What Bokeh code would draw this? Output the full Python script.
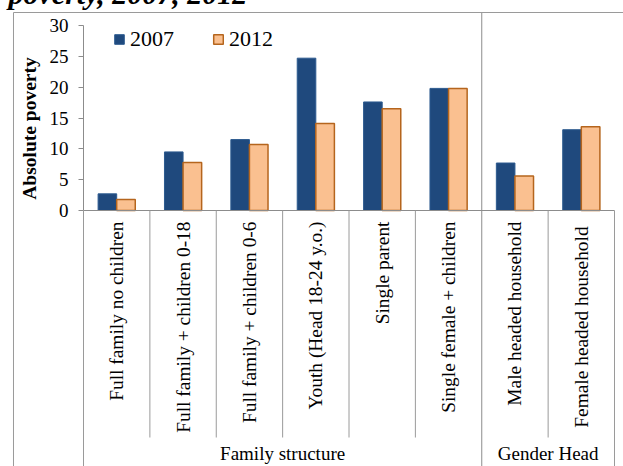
import numpy as np
from bokeh.plotting import figure
from bokeh.models import FactorRange, ColumnDataSource, Legend, LegendItem, FixedTicker
from bokeh.transform import dodge
from bokeh.core.properties import value
from bokeh.embed import file_html
from bokeh.resources import INLINE

# ---------------- data ----------------
title_text = "poverty, 2007, 2012"
groups = ["Family structure"] * 6 + ["Gender Head"] * 2
categories = [
    "Full family no children",
    "Full family + children 0-18",
    "Full family + children 0-6",
    "Youth (Head 18-24 y.o.)",
    "Single parent",
    "Single female + children",
    "Male headed household",
    "Female  headed household",
]
v2007 = [2.7, 9.5, 11.5, 24.7, 17.6, 19.8, 7.7, 13.1]
v2012 = [1.8, 7.8, 10.7, 14.1, 16.5, 19.8, 5.6, 13.6]
series_names = ["2007", "2012"]
y_ticks = [0, 5, 10, 15, 20, 25, 30]
y_label = "Absolute poverty"

# ---------------- layout constants (pixels) ----------------
W, H = 623, 466
FL, FR, FT, FB = 83, 614, 12, 466      # plot frame
Y0_PX, YTOP_PX = 210, 25               # pixel rows of y=0 and y=30
FONT = "Liberation Serif"
LINE = "#9a9a9a"
AXIS = "#8c8c8c"

ppu = (Y0_PX - YTOP_PX) / (max(y_ticks) - min(y_ticks))
y_start = -(FB - Y0_PX) / ppu
y_end = (Y0_PX - FT) / ppu
n = len(categories)
cw = (FR - FL) / n


def px_to_x(px):
    return (px - FL) / cw


def px_to_y(py):
    return (Y0_PX - py) / ppu


factors = list(zip(groups, categories))
x_range = FactorRange(*factors, range_padding=0, factor_padding=0,
                      group_padding=0, subgroup_padding=0)

p = figure(width=W, height=H, x_range=x_range, y_range=(y_start, y_end),
           output_backend="svg", toolbar_location=None, x_axis_location=None,
           min_border_left=FL, min_border_right=W - FR, min_border_top=FT,
           min_border_bottom=0,
           outline_line_color=None, background_fill_color="white",
           border_fill_color="white")
p.xgrid.grid_line_color = None
p.ygrid.grid_line_color = None

# y axis
ya = p.yaxis[0]
ya.ticker = FixedTicker(ticks=y_ticks)
ya.bounds = (min(y_ticks), max(y_ticks))
ya.axis_line_color = AXIS
ya.major_tick_line_color = AXIS
ya.major_tick_out = 5
ya.major_tick_in = 0
ya.minor_tick_line_color = None
ya.major_label_text_font = FONT
ya.major_label_text_font_size = "19px"
ya.major_label_text_color = "black"
ya.major_label_standoff = 10

# y axis title
p.text(x=[px_to_x(29)], y=[px_to_y(128)], text=[y_label],
       angle=np.pi / 2, text_align="center", text_baseline="middle",
       text_font=value(FONT), text_font_size="19.5px", text_font_style="bold",
       text_color="black", level="overlay")

src = ColumnDataSource(dict(x=factors, cat=categories, v2007=v2007, v2012=v2012))

r1 = p.vbar(x=dodge("x", -0.14, range=p.x_range), top="v2007", bottom=0, width=0.28,
            source=src, fill_color="#1F497D", line_color="#2C5A8F", line_width=1)
r2 = p.vbar(x=dodge("x", 0.14, range=p.x_range), top="v2012", bottom=0, width=0.28,
            source=src, fill_color="#FAC090", line_color="#B5651D", line_width=1.5)

legend = Legend(items=[LegendItem(label=series_names[0], renderers=[r1]),
                       LegendItem(label=series_names[1], renderers=[r2])],
                orientation="horizontal", location=(30, 414.5),
                border_line_color=None, background_fill_alpha=0,
                padding=0, margin=0, spacing=38, glyph_width=12, glyph_height=12,
                label_standoff=5, label_text_font=FONT, label_text_font_size="22px",
                label_text_color="black")
p.add_layout(legend)

# category labels
p.text(x="x", y=0, text="cat", source=src, angle=np.pi / 2, text_align="right",
       text_baseline="middle", y_offset=11, text_font=value(FONT),
       text_font_size="19.4px", text_color="black")

# group labels
group_names = list(dict.fromkeys(groups))
p.text(x=group_names, y=[0] * len(group_names), text=group_names, text_align="center",
       text_baseline="alphabetic", y_offset=243, text_font=value(FONT),
       text_font_size="19px", text_color="black")

# structural lines
counts = [groups.count(g) for g in group_names]
group_bounds = [0] + list(np.cumsum(counts))
cat_bounds = [b for b in range(1, n) if b not in group_bounds]
y_tick_bottom = px_to_y(437)

p.segment(x0=[0], y0=[0], x1=[n], y1=[0], line_color=AXIS, line_width=1, level="overlay")
p.segment(x0=cat_bounds, y0=[0] * len(cat_bounds), x1=cat_bounds,
          y1=[y_tick_bottom] * len(cat_bounds), line_color=LINE, line_width=1, level="overlay")
outer = [group_bounds[0], group_bounds[-1]]
p.segment(x0=outer, y0=[0, 0], x1=outer, y1=[y_start, y_start],
          line_color=LINE, line_width=1, level="overlay")
inner = group_bounds[1:-1]
p.segment(x0=inner, y0=[y_end] * len(inner), x1=inner, y1=[y_start] * len(inner),
          line_color=AXIS, line_width=1, level="overlay")
# outer box (top and left border)
p.segment(x0=[px_to_x(13), px_to_x(13)], y0=[px_to_y(12), px_to_y(12)],
          x1=[px_to_x(W), px_to_x(13)], y1=[px_to_y(12), y_start],
          line_color=LINE, line_width=1, level="overlay")

# clipped title at the top
p.text(x=[px_to_x(8)], y=[px_to_y(-7)], text=[title_text], text_align="left",
       text_baseline="alphabetic", text_font=value(FONT), text_font_size="30px",
       text_font_style="bold italic", text_color="black", level="overlay")

open("out.html", "w").write(file_html(p, INLINE))
